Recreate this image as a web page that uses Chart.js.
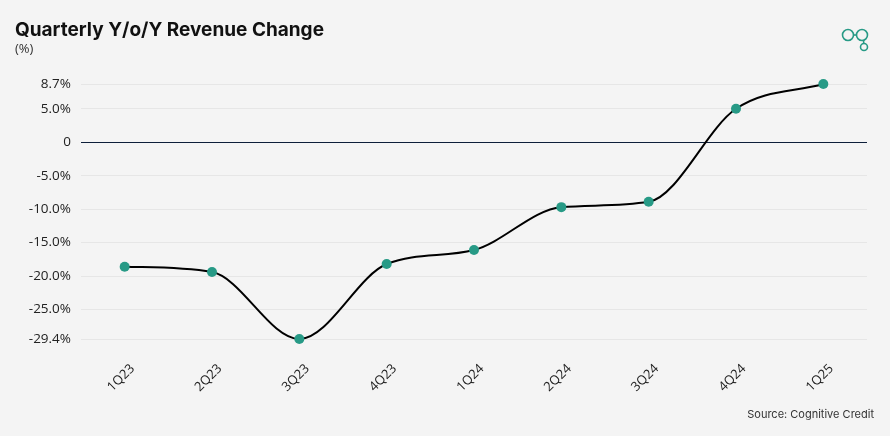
<!DOCTYPE html>
<html>
<head>
<meta charset="utf-8">
<script src="https://cdn.jsdelivr.net/npm/chart.js@4"></script>
<style>
html,body{margin:0;padding:0;background:#f4f4f4;}
#wrap{width:890px;height:436px;position:relative;}
</style>
</head>
<body>
<div id="wrap"><canvas id="c" width="890" height="436"></canvas></div>
<script>
const categories = ['1Q23','2Q23','3Q23','4Q23','1Q24','2Q24','3Q24','4Q24','1Q25'];
const revenueChange = [-18.6, -19.4, -29.4, -18.2, -16.1, -9.7, -8.9, 5.0, 8.7];
const yTickValues = [8.7, 5, 0, -5, -10, -15, -20, -25, -29.4];
const titleText = 'Quarterly Y/o/Y Revenue Change';
const subtitleText = '(%)';
const sourceText = 'Source: Cognitive Credit';

const TEAL = '#279a86';
const TICK_FONT = '"Open Sans", sans-serif';

const decor = {
  id: 'decor',
  beforeDraw(chart) {
    const ctx = chart.ctx;
    ctx.save();
    ctx.fillStyle = '#f4f4f4';
    ctx.fillRect(0, 0, chart.width, chart.height);
    ctx.restore();
  },
  afterDraw(chart) {
    const ctx = chart.ctx;
    ctx.save();
    ctx.textBaseline = 'alphabetic';
    ctx.fillStyle = '#111';
    ctx.font = '700 19px Inter, "Open Sans", sans-serif';
    ctx.textAlign = 'left';
    ctx.fillText(titleText, 15, 36);
    ctx.fillStyle = '#333';
    ctx.font = '13px "Open Sans", sans-serif';
    ctx.fillText(subtitleText, 15, 53);
    ctx.font = '11px Inter, "Open Sans", sans-serif';
    ctx.textAlign = 'right';
    ctx.fillText(sourceText, 874, 418);
    // logo
    ctx.strokeStyle = TEAL;
    ctx.lineWidth = 1.6;
    ctx.beginPath(); ctx.arc(848, 35, 5.5, 0, Math.PI*2); ctx.stroke();
    ctx.beginPath(); ctx.arc(862, 35, 5.5, 0, Math.PI*2); ctx.stroke();
    ctx.beginPath(); ctx.arc(864, 47, 3.5, 0, Math.PI*2); ctx.stroke();
    ctx.beginPath(); ctx.moveTo(853.5, 35); ctx.lineTo(856.5, 35); ctx.stroke();
    ctx.beginPath(); ctx.moveTo(863.5, 40.5); ctx.lineTo(863.8, 43.5); ctx.stroke();
    ctx.restore();
  }
};

new Chart(document.getElementById('c'), {
  type: 'line',
  data: {
    labels: categories,
    datasets: [{
      data: revenueChange,
      borderColor: '#000',
      borderWidth: 2,
      cubicInterpolationMode: 'monotone',
      pointRadius: 5,
      pointHoverRadius: 5,
      pointBackgroundColor: TEAL,
      pointBorderColor: TEAL,
      pointBorderWidth: 0,
      clip: false
    }]
  },
  options: {
    responsive: false,
    animation: false,
    events: [],
    layout: { padding: { top: 84, left: 15, right: 23, bottom: 0 } },
    plugins: { legend: { display: false }, tooltip: { enabled: false } },
    scales: {
      x: {
        offset: true,
        grid: { display: false, drawTicks: false },
        border: { display: false },
        ticks: {
          minRotation: 45, maxRotation: 45,
          color: '#222',
          font: { family: TICK_FONT, size: 13 },
          padding: 22,
          labelOffset: 8
        },
        afterFit(scale) {
          scale.height = 97;
          scale.paddingLeft = 0;
          scale.paddingRight = 0;
        }
      },
      y: {
        min: -29.4,
        max: 8.7,
        afterBuildTicks(scale) { scale.ticks = yTickValues.map(v => ({ value: v })); },
        grid: {
          drawTicks: false,
          color: ctx => (ctx.tick && ctx.tick.value === 0) ? '#0d1f3a' : '#e6e6e6',
          lineWidth: 1
        },
        border: { display: false },
        ticks: {
          color: '#222',
          font: { family: TICK_FONT, size: 13.5 },
          padding: 10,
          callback: v => v === 0 ? '0' : v.toFixed(1) + '%'
        },
        afterFit(scale) { scale.width = 66; }
      }
    }
  },
  plugins: [decor]
});
</script>
</body>
</html>
